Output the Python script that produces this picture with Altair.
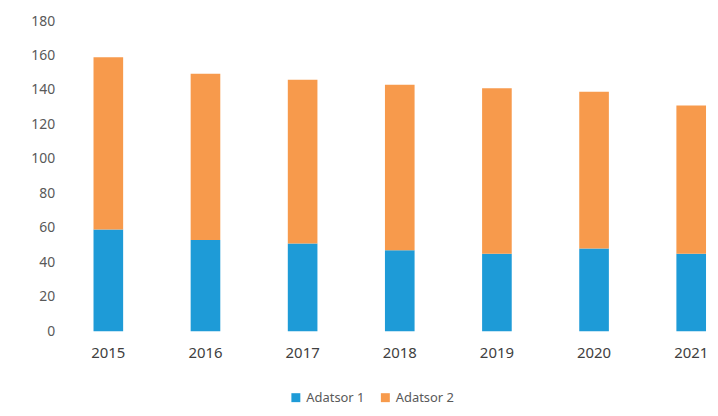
import altair as alt
import pandas as pd

years = ["2015", "2016", "2017", "2018", "2019", "2020", "2021"]
series_names = ["Adatsor 1", "Adatsor 2"]
adatsor1 = [59, 53, 51, 47, 45, 48, 45]
adatsor2 = [100, 96.5, 95, 96, 96, 91, 86]
colors = ["#1E9BD7", "#F79A4C"]

rows = []
for i, y in enumerate(years):
    rows.append({"year": y, "series": series_names[0], "value": adatsor1[i], "order": 0})
    rows.append({"year": y, "series": series_names[1], "value": adatsor2[i], "order": 1})
df = pd.DataFrame(rows)

chart = alt.Chart(df).mark_bar().encode(
    x=alt.X("year:N", sort=years, title=None,
            scale=alt.Scale(paddingInner=0.695, paddingOuter=0),
            axis=alt.Axis(labelAngle=0, tickSize=0, domain=False, grid=False,
                          labelPadding=14, labelFontSize=15, labelColor="#404040",
                          labelFont="Noto Sans")),
    y=alt.Y("value:Q", stack="zero", title=None,
            scale=alt.Scale(domain=[0, 180], nice=False),
            axis=alt.Axis(values=list(range(0, 181, 20)), tickSize=0, domain=False, grid=False,
                          labelPadding=39, labelFontSize=14, labelColor="#595959",
                          labelFont="Noto Sans")),
    color=alt.Color("series:N", sort=series_names,
                    scale=alt.Scale(domain=series_names, range=colors),
                    legend=alt.Legend(title=None, orient="none", direction="horizontal",
                                      legendX=197, legendY=372, symbolType="square",
                                      symbolSize=81, labelFontSize=13, labelColor="#595959",
                                      labelFont="Noto Sans", columnPadding=14, labelOffset=4,
                                      symbolStrokeWidth=0)),
    order=alt.Order("order:Q", sort="ascending"),
).properties(
    width=616, height=312,
    background="white",
    autosize=alt.AutoSizeParams(type="none"),
    padding={"left": 86, "top": 12, "right": 4, "bottom": 76},
).configure_view(strokeWidth=0)

chart.save("out.html", embed_options={"renderer": "svg", "actions": False})
